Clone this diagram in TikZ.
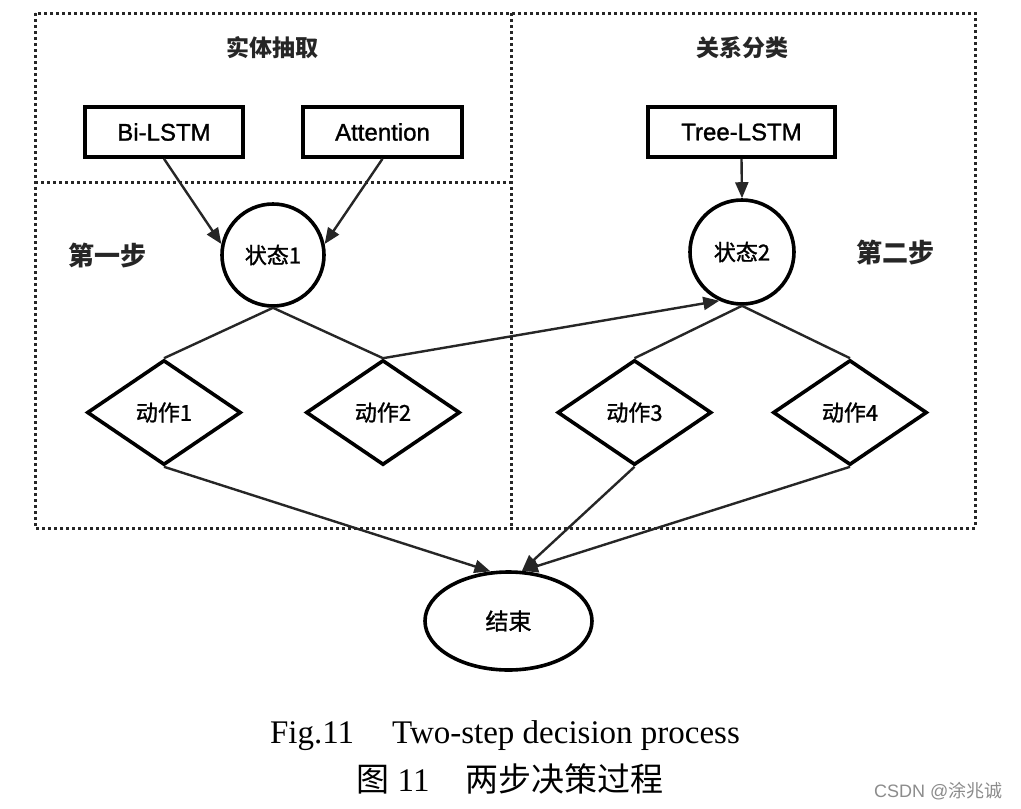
\documentclass[tikz,border=0pt]{standalone}
\usepackage{fontspec}
\setmainfont{Liberation Serif}
\setsansfont{Liberation Sans}
\newfontfamily\cjk{Noto Sans CJK SC}
\newfontfamily\cjkm[FakeBold=1.3]{Noto Sans CJK SC}
\newfontfamily\sfm[FakeBold=1.2]{Liberation Sans}
\usetikzlibrary{shapes.geometric,arrows.meta}
\begin{document}
\begin{tikzpicture}[x=1pt,y=-1pt,
  frame/.style={line width=3pt,dash pattern=on 3pt off 3pt,black!85},
  modbox/.style={draw,line width=3.6pt,minimum width=158pt,minimum height=50pt,inner sep=0pt,font=\sfm\fontsize{24}{28}\selectfont},
  statec/.style={draw,circle,line width=3.6pt,minimum size=102pt,inner sep=0pt,font=\cjkm\fontsize{22}{26}\selectfont},
  actd/.style={draw,diamond,line width=3.6pt,minimum width=154pt,minimum height=105pt,inner sep=0pt,font=\cjkm\fontsize{22}{26}\selectfont},
  endn/.style={draw,ellipse,line width=3.6pt,minimum width=167pt,minimum height=98pt,inner sep=0pt,font=\cjkm\fontsize{23}{27}\selectfont},
  title/.style={font=\cjk\bfseries\fontsize{23}{27}\selectfont,black!85},
  steplbl/.style={font=\cjk\bfseries\fontsize{26}{30}\selectfont,black!85},
  conn/.style={line width=2.4pt,black!85},
  arr/.style={conn,-{Triangle[length=16pt,width=13pt]}}
]
\useasboundingbox (0,0) rectangle (1021,809);
\fill[white] (0,0) rectangle (1021,809);
% frames
\draw[frame] (35,13) rectangle (975,528);
\draw[frame] (511,13) -- (511,528);
\draw[frame] (35,182) -- (511,182);
% titles
\node[title] (t1) at (272,48) {实体抽取};
\node[title] (t2) at (742,48) {关系分类};
\node[steplbl] (st1) at (107,255) {第一步};
\node[steplbl] (st2) at (895,252) {第二步};
% boxes
\node[modbox] (bilstm) at (164,132) {Bi-LSTM};
\node[modbox,minimum width=159pt] (attn) at (382.5,132) {Attention};
\node[modbox,minimum width=187pt] (tree) at (741.5,132) {Tree-LSTM};
% states
\node[statec] (s1) at (273,255) {状态1};
\node[statec,minimum size=104pt] (s2) at (742,252) {状态2};
% actions
\node[actd] (a1) at (164,412.5) {动作1};
\node[actd] (a2) at (383,412.5) {动作2};
\node[actd] (a3) at (634.5,412.5) {动作3};
\node[actd] (a4) at (850,412.5) {动作4};
% end
\node[endn] (end) at (508.5,621) {结束};
% connectors
\draw[arr] (bilstm.south) -- (s1.168);
\draw[arr] (attn.south) -- (s1.12);
\draw[arr] (tree.south) -- (s2.north);
\draw[conn] (s1.south) -- (a1.north);
\draw[conn] (s1.south) -- (a2.north);
\draw[arr] (a2.north) -- (s2.245);
\draw[conn] (s2.south) -- (a3.north);
\draw[conn] (s2.south) -- (a4.north);
\draw[arr] (a1.south) -- (end.110);
\draw[arr] (a3.south) -- (end.75);
\draw[arr] (a4.south) -- (end.75);
% captions
\node[font=\fontsize{33}{38}\selectfont,anchor=base] (cap1) at (505,743) {Fig.11\hspace{38pt}Two-step decision process};
\node[font=\fontsize{33}{38}\selectfont,anchor=base] (cap2) at (510,791) {{\cjk 图} 11\hspace{36pt}{\cjk 两步决策过程}};
\node[font=\sffamily\fontsize{18}{20}\selectfont,text=black!45,anchor=base east] (wm) at (1006,797) {CSDN @{\cjk 涂兆诚}};
\end{tikzpicture}
\end{document}
